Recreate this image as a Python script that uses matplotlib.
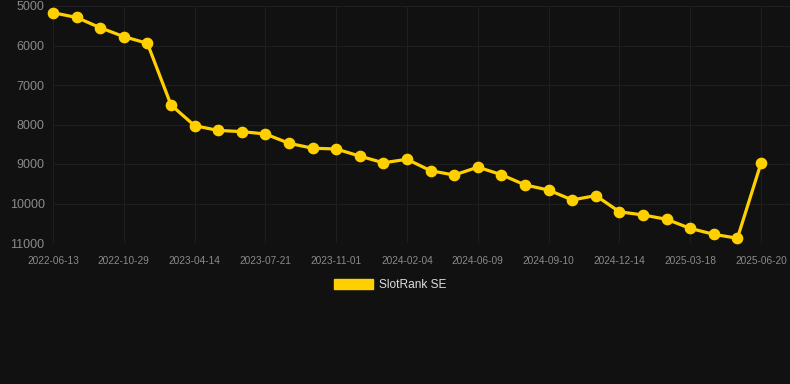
import matplotlib
matplotlib.use("Agg")
import matplotlib.pyplot as plt
from matplotlib.patches import Patch

dates = ["2022-06-13", "2022-07-29", "2022-09-13", "2022-10-29", "2022-12-25",
         "2023-02-18", "2023-04-14", "2023-05-17", "2023-06-18", "2023-07-21",
         "2023-08-24", "2023-09-28", "2023-11-01", "2023-12-02", "2024-01-03",
         "2024-02-04", "2024-03-16", "2024-04-28", "2024-06-09", "2024-07-10",
         "2024-08-10", "2024-09-10", "2024-10-12", "2024-11-13", "2024-12-14",
         "2025-01-14", "2025-02-15", "2025-03-18", "2025-04-18", "2025-05-19",
         "2025-06-20"]
ranks = [5170, 5290, 5550, 5775, 5945, 7505, 8030, 8150, 8180, 8240,
         8476, 8600, 8620, 8800, 8970, 8880, 9170, 9280, 9080, 9270,
         9530, 9660, 9910, 9800, 10210, 10290, 10400, 10630, 10780, 10880,
         8980]
series_name = "SlotRank SE"
yticks = [5000, 6000, 7000, 8000, 9000, 10000, 11000]

plt.rcParams['font.family'] = ['Liberation Sans', 'DejaVu Sans']

W, H = 790, 384
fig = plt.figure(figsize=(W / 100, H / 100), dpi=100)
fig.patch.set_facecolor('#111111')
ax = fig.add_axes([53 / W, (H - 243) / H, (790 - 53) / W, (243 - 6) / H])
ax.set_facecolor('#111111')

color = '#FFD000'
x = list(range(len(dates)))
ax.plot(x, ranks, color=color, linewidth=2.3, marker='o', markersize=7.4,
        markerfacecolor=color, markeredgecolor=color, zorder=3, clip_on=False)

ax.set_ylim(11000, 5000)
ax.set_xlim(0, len(dates) - 1 + 29 / 23.6)
ax.set_yticks(yticks)
ax.set_yticklabels([str(v) for v in yticks])
tick_idx = list(range(0, len(dates), 3))
ax.set_xticks(tick_idx)
ax.set_xticklabels([dates[i] for i in tick_idx])

ax.grid(True, color='#1f1f1f', linewidth=0.8)
ax.set_axisbelow(True)
for s in ax.spines.values():
    s.set_visible(False)
ax.tick_params(axis='y', colors='#8a8a8a', labelsize=9, length=0, pad=6)
ax.tick_params(axis='x', colors='#8a8a8a', labelsize=7.3, length=0, pad=9)

handle = Patch(facecolor=color, edgecolor=color)
leg = fig.legend([handle], [series_name], loc='center', bbox_to_anchor=(0.494, 1 - 285 / H),
                 frameon=False, fontsize=8.6, handlelength=3.3, handleheight=1.0,
                 handletextpad=0.5, labelcolor='#dddddd')

fig.savefig('out.png', dpi=100, facecolor=fig.get_facecolor())
